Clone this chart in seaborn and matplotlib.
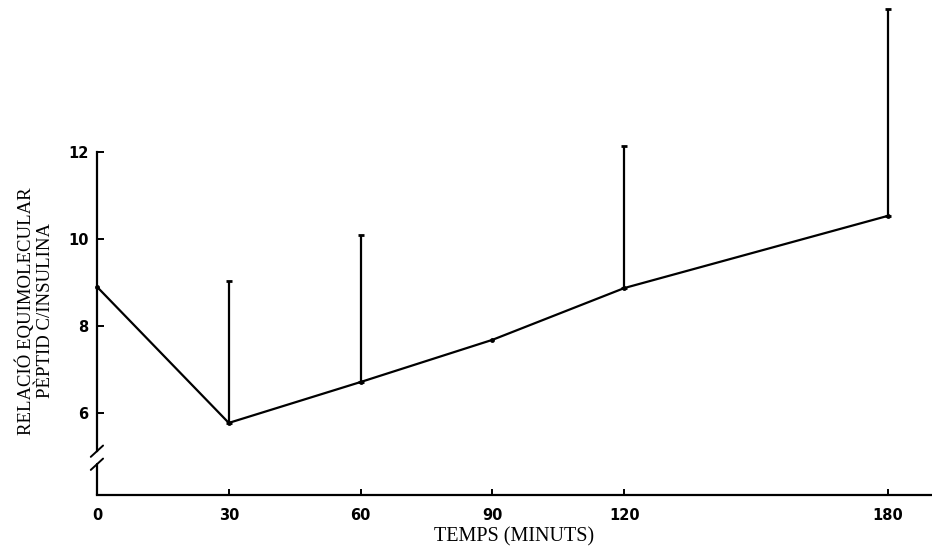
import numpy as np
import pandas as pd
import matplotlib
matplotlib.use("Agg")
import matplotlib.pyplot as plt
import seaborn as sns

sns.set_theme(style="white")

# data
temps = [0, 30, 60, 90, 120, 180]
relacio = [8.9, 5.77, 6.71, 7.68, 8.87, 10.53]
error_sup = [np.nan, 9.03, 10.09, np.nan, 12.14, 15.29]   # top of upper error bar
x_ticks = [0, 30, 60, 90, 120, 180]
y_ticks = [6, 8, 10, 12]

df = pd.DataFrame({"temps": temps, "relacio": relacio, "sup": error_sup})
df["err"] = df["sup"] - df["relacio"]

fig = plt.figure(figsize=(9.32, 5.52), dpi=100)
ax = fig.add_axes([0.104, 0.103, 0.896, 0.897])

sns.lineplot(data=df, x="temps", y="relacio", ax=ax, color="black",
             linewidth=1.6, marker="o", markersize=3.5, markeredgewidth=0,
             clip_on=False)

eb = df.dropna(subset=["err"])
ax.errorbar(eb["temps"], eb["relacio"],
            yerr=[np.zeros(len(eb)), eb["err"]],
            fmt="none", ecolor="black", elinewidth=1.6, capsize=2, capthick=2,
            clip_on=False)

ymin = 4.11
ax.set_xlim(0, 190)
ax.set_ylim(ymin, 15.49)
ax.set_xticks(x_ticks)
ax.set_yticks(y_ticks)

for s in ["top", "right"]:
    ax.spines[s].set_visible(False)
ax.spines["bottom"].set_color("black")
ax.spines["bottom"].set_linewidth(1.6)
ax.spines["left"].set_color("black")
ax.spines["left"].set_linewidth(1.6)
ax.spines["left"].set_bounds(5.12, 12)

# lower stub of the y axis and the break marks
ax.plot([0, 0], [ymin, 4.82], color="black", lw=1.6, clip_on=False)
for yb in [4.82, 5.12]:
    ax.plot([-1.4, 1.4], [yb - 0.13, yb + 0.13], color="black", lw=1.4,
            clip_on=False)

ax.tick_params(axis="x", bottom=True, direction="in", length=4, width=1.4,
               colors="black", pad=9)
ax.tick_params(axis="y", left=True, direction="in", length=5, width=1.4,
               colors="black", pad=6)
for lab in ax.get_xticklabels() + ax.get_yticklabels():
    lab.set_fontfamily("DejaVu Sans")
    lab.set_fontweight("bold")
    lab.set_fontsize(10.5)

ax.set_xlabel("TEMPS (MINUTS)", fontfamily="Liberation Serif", fontsize=14.5,
              labelpad=3, color="black")
ax.set_ylabel("RELACIÓ EQUIMOLECULAR\nPÈPTID C/INSULINA",
              fontfamily="Liberation Serif", fontsize=13.5, color="black",
              linespacing=1.1)
ax.yaxis.set_label_coords(-0.052, 0.372)

fig.savefig("out.png", dpi=100, facecolor="white")
